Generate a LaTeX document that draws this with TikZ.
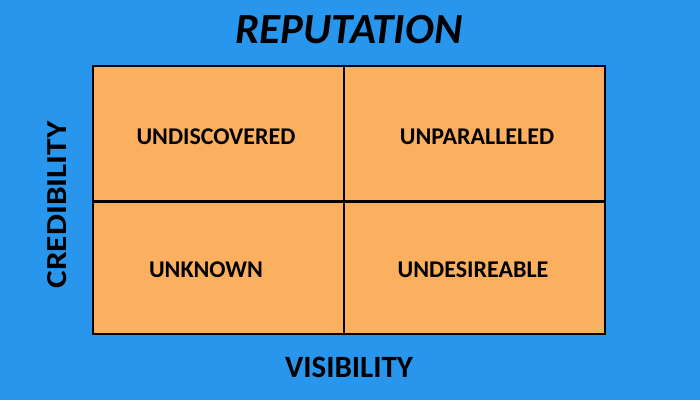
\documentclass[tikz,border=0pt]{standalone}
\usepackage{fontspec}
\setmainfont{Carlito}
\definecolor{bgblue}{HTML}{2996ED}
\definecolor{cellorange}{HTML}{FBB060}
\begin{document}
\begin{tikzpicture}[x=1pt,y=1pt,
  celltext/.style={font=\fontsize{24}{28}\selectfont\bfseries, text=black},
  axistext/.style={font=\fontsize{31}{34}\selectfont\bfseries, text=black},
  gridline/.style={draw=black, line width=2.2pt}]
\fill[bgblue] (0,0) rectangle (700,400);
\useasboundingbox (0,0) rectangle (700,400);
\coordinate (tl) at (93,334);
\coordinate (br) at (605,66);
\coordinate (mt) at (344,334);
\coordinate (mb) at (344,66);
\coordinate (ml) at (93,198.5);
\coordinate (mr) at (605,198.5);
\fill[cellorange] (tl) rectangle (br);
\draw[gridline] (mt) -- (mb);
\draw[gridline] (ml) -- (mr);
\draw[gridline] (tl) rectangle (br);
\node[celltext] (a) at (216,263) {UNDISCOVERED};
\node[celltext] (b) at (477,263) {UNPARALLELED};
\node[celltext] (c) at (206,130) {UNKNOWN};
\node[celltext] (d) at (473,130) {UNDESIREABLE};
\node[font=\fontsize{43}{46}\selectfont\bfseries\itshape] (title) at (349,370) {REPUTATION};
\node[axistext] (vis) at (349,32.5) {VISIBILITY};
\node[font=\fontsize{29}{32}\selectfont\bfseries, rotate=90] (cred) at (57,195) {\scalebox{1.15}[1]{CREDIBILITY}};
\end{tikzpicture}
\end{document}
